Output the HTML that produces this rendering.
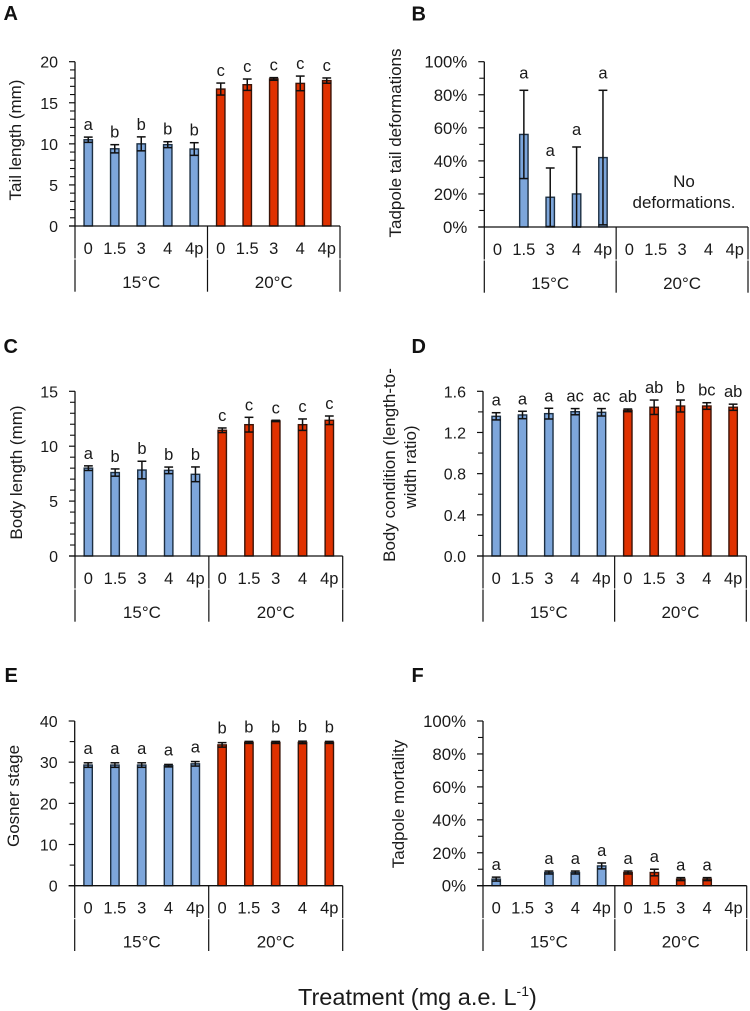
<!DOCTYPE html>
<html lang="en">
<head>
<meta charset="utf-8">
<title>Tadpole responses by treatment and temperature</title>
<style>
  html, body { margin: 0; padding: 0; background: #fff; }
  svg { display: block; }
  text { font-family: "Liberation Sans", Arial, sans-serif; fill: #1a1a1a; }
  .panel-letter { font-weight: bold; font-size: 20px; fill: #111; }
  .y-title { font-size: 17px; text-anchor: middle; }
  .note { font-size: 17px; text-anchor: middle; }
</style>
</head>
<body>
<svg id="figure" width="750" height="1011" viewBox="0 0 750 1011" xmlns="http://www.w3.org/2000/svg">
  <text class="panel-letter" x="3.5" y="20">A</text>
  <text class="panel-letter" x="411.5" y="20.5">B</text>
  <text class="panel-letter" x="3.5" y="353">C</text>
  <text class="panel-letter" x="411.5" y="353">D</text>
  <text class="panel-letter" x="4.5" y="682">E</text>
  <text class="panel-letter" x="411.5" y="682">F</text>

  <text class="y-title" transform="translate(21,140) rotate(-90)">Tail length (mm)</text>
  <text class="y-title" transform="translate(401,143) rotate(-90)">Tadpole tail deformations</text>
  <text class="y-title" transform="translate(22,472.5) rotate(-90)">Body length (mm)</text>
  <text class="y-title" transform="translate(395,465) rotate(-90)">Body condition (length-to-</text>
  <text class="y-title" transform="translate(416,467) rotate(-90)">width ratio)</text>
  <text class="y-title" transform="translate(19,796) rotate(-90)">Gosner stage</text>
  <text class="y-title" transform="translate(404,804) rotate(-90)">Tadpole mortality</text>

  <text class="note" x="684" y="187">No</text>
  <text class="note" x="684" y="208">deformations.</text>

  <text x="298" y="1005" font-size="23.5px">Treatment (mg a.e. L<tspan font-size="14px" dy="-9">-1</tspan><tspan dy="9">)</tspan></text>

  <g id="panel-a"></g>
  <g id="panel-b"></g>
  <g id="panel-c"></g>
  <g id="panel-d"></g>
  <g id="panel-e"></g>
  <g id="panel-f"></g>
</svg>

<script>
const categories = ["0", "1.5", "3", "4", "4p", "0", "1.5", "3", "4", "4p"];
const temperatureGroups = ["15°C", "20°C"];

const tailLengthTicks = ["0", "5", "10", "15", "20"];
const tailLengthMeans = [10.5, 9.4, 10.0, 9.9, 9.37, 16.67, 17.2, 17.9, 17.36, 17.7];
const tailLengthErrors = [0.32, 0.5, 0.85, 0.36, 0.77, 0.73, 0.69, 0.16, 0.89, 0.32];
const tailLengthLetters = ["a", "b", "b", "b", "b", "c", "c", "c", "c", "c"];

const deformationTicks = ["0%", "20%", "40%", "60%", "80%", "100%"];
const deformationMeans = [0, 56, 18, 20, 42, 0, 0, 0, 0, 0];
const deformationErrors = [0, 26.7, 17.7, 28.4, 40.7, 0, 0, 0, 0, 0];
const deformationLetters = ["", "a", "a", "a", "a", "", "", "", "", ""];

const bodyLengthTicks = ["0", "5", "10", "15"];
const bodyLengthMeans = [8.0, 7.6, 7.83, 7.8, 7.44, 11.45, 11.96, 12.3, 11.96, 12.36];
const bodyLengthErrors = [0.21, 0.33, 0.8, 0.3, 0.67, 0.21, 0.67, 0.06, 0.52, 0.39];
const bodyLengthLetters = ["a", "b", "b", "b", "b", "c", "c", "c", "c", "c"];

const conditionTicks = ["0.0", "0.4", "0.8", "1.2", "1.6"];
const conditionMeans = [1.357, 1.37, 1.383, 1.402, 1.396, 1.415, 1.445, 1.457, 1.457, 1.445];
const conditionErrors = [0.035, 0.036, 0.052, 0.03, 0.036, 0.013, 0.07, 0.058, 0.032, 0.03];
const conditionLetters = ["a", "a", "a", "ac", "ac", "ab", "ab", "b", "bc", "ab"];

const gosnerTicks = ["0", "10", "20", "30", "40"];
const gosnerMeans = [29.3, 29.3, 29.3, 29.15, 29.6, 34.2, 34.8, 34.8, 34.8, 34.8];
const gosnerErrors = [0.55, 0.55, 0.55, 0.3, 0.55, 0.55, 0.25, 0.25, 0.3, 0.25];
const gosnerLetters = ["a", "a", "a", "a", "a", "b", "b", "b", "b", "b"];

const mortalityTicks = ["0%", "20%", "40%", "60%", "80%", "100%"];
const mortalityMeans = [4, 0, 8, 8, 12, 8, 8, 4, 4, 0];
const mortalityErrors = [1.2, 0, 0.9, 0.9, 1.8, 0.9, 2, 0.9, 0.9, 0];
const mortalityLetters = ["a", "", "a", "a", "a", "a", "a", "a", "a", ""];

const SVG_NS = "http://www.w3.org/2000/svg";
const INK = "#101010";

function makeEl(parent, tag, attrs, text) {
  const el = document.createElementNS(SVG_NS, tag);
  for (const key in attrs) el.setAttribute(key, attrs[key]);
  if (text !== undefined) el.textContent = text;
  parent.appendChild(el);
  return el;
}

function drawPanel(cfg) {
  const root = document.getElementById(cfg.id);
  const yMax = parseFloat(cfg.ticks[cfg.ticks.length - 1]);
  const yScale = v => cfg.base - (v / yMax) * (cfg.base - cfg.top);
  const step = (cfg.right - cfg.left) / cfg.categories.length;
  const xScale = i => cfg.left + (i + 0.5) * step;
  const divider = cfg.left + step * cfg.categories.length / 2;

  cfg.means.forEach((mean, i) => {
    const err = cfg.errors[i];
    const xc = xScale(i);
    const barColor = i < 5 ? "#7DA6DB" : "#E03100";
    const barEdge = i < 5 ? "#1d2f42" : "#3b1408";
    if (mean > 0) {
      const bar = makeEl(root, "rect", {
        x: xc - 4.2, y: yScale(mean), width: 8.4, height: cfg.base - yScale(mean),
        fill: barColor, stroke: barEdge, "stroke-width": 1.4
      });
      
      
    }
    if (err > 0) {
      const hi = yScale(mean + err);
      const lo = yScale(Math.max(0, mean - err));
      const stem = makeEl(root, "line", { x1: xc, x2: xc, y1: hi, y2: lo, stroke: INK, "stroke-width": 1.5 });
      
      
      const capTop = makeEl(root, "line", { x1: xc - 4.4, x2: xc + 4.4, y1: hi, y2: hi, stroke: INK, "stroke-width": 1.5 });
      
      
      const capLow = makeEl(root, "line", { x1: xc - 4.4, x2: xc + 4.4, y1: lo, y2: lo, stroke: INK, "stroke-width": 1.5 });
      
      
    }
    if (cfg.letters[i]) {
      const letter = makeEl(root, "text", {
        x: xc, y: yScale(mean + err) - cfg.letterGap, "text-anchor": "middle", "font-size": "16.5px"
      }, cfg.letters[i]);
      
      
    }
  });

  const yAxis = makeEl(root, "line", { x1: cfg.left, x2: cfg.left, y1: cfg.top, y2: cfg.base, stroke: INK, "stroke-width": 1.3 });
  
  
  const xAxis = makeEl(root, "line", { x1: cfg.left - 6, x2: cfg.right, y1: cfg.base, y2: cfg.base, stroke: INK, "stroke-width": 1.3 });
  
  

  const majorStep = yMax / (cfg.ticks.length - 1);
  cfg.ticks.forEach(label => {
    const v = parseFloat(label);
    const y = yScale(v);
    const tick = makeEl(root, "line", { x1: cfg.left - 6, x2: cfg.left, y1: y, y2: y, stroke: INK, "stroke-width": 1.2 });
    
    
    const tickText = makeEl(root, "text", {
      x: cfg.left - 17, y: y + 6, "text-anchor": "end", "font-size": cfg.tickFont + "px"
    }, label);
    
    
    if (v < yMax) {
      for (let m = 1; m < cfg.minorDiv; m++) {
        const my = yScale(v + majorStep * m / cfg.minorDiv);
        const minor = makeEl(root, "line", { x1: cfg.left - 5, x2: cfg.left, y1: my, y2: my, stroke: INK, "stroke-width": 1.1 });
        
        
      }
    }
  });

  cfg.categories.forEach((label, i) => {
    const cat = makeEl(root, "text", {
      x: xScale(i), y: cfg.base + 28, "text-anchor": "middle", "font-size": "16.5px"
    }, label);
    
    
  });

  [cfg.left, divider, cfg.right].forEach(x => {
    const upper = makeEl(root, "line", { x1: x, x2: x, y1: cfg.base, y2: cfg.base + 32.5, stroke: INK, "stroke-width": 1.2 });
    
    
    const lower = makeEl(root, "line", { x1: x, x2: x, y1: cfg.base + 33.5, y2: cfg.bottom, stroke: INK, "stroke-width": 1.2 });
    
    
  });

  cfg.groups.forEach((label, g) => {
    const group = makeEl(root, "text", {
      x: (g === 0 ? (cfg.left + divider) : (divider + cfg.right)) / 2, y: cfg.base + 62,
      "text-anchor": "middle", "font-size": "17px"
    }, label);
    
    
  });
}

drawPanel({ id: "panel-a", left: 75, right: 340, top: 61.7, base: 226, bottom: 291.7, minorDiv: 5, letterGap: 7, tickFont: 16,
  categories: categories, groups: temperatureGroups, ticks: tailLengthTicks, means: tailLengthMeans, errors: tailLengthErrors, letters: tailLengthLetters });
drawPanel({ id: "panel-b", left: 484.3, right: 748, top: 61.7, base: 227, bottom: 292.7, minorDiv: 2, letterGap: 12, tickFont: 16.8,
  categories: categories, groups: temperatureGroups, ticks: deformationTicks, means: deformationMeans, errors: deformationErrors, letters: deformationLetters });
drawPanel({ id: "panel-c", left: 75, right: 342.7, top: 391.3, base: 556, bottom: 621.7, minorDiv: 5, letterGap: 7, tickFont: 16,
  categories: categories, groups: temperatureGroups, ticks: bodyLengthTicks, means: bodyLengthMeans, errors: bodyLengthErrors, letters: bodyLengthLetters });
drawPanel({ id: "panel-d", left: 483, right: 746.3, top: 391.3, base: 556, bottom: 621.7, minorDiv: 2, letterGap: 7, tickFont: 16,
  categories: categories, groups: temperatureGroups, ticks: conditionTicks, means: conditionMeans, errors: conditionErrors, letters: conditionLetters });
drawPanel({ id: "panel-e", left: 74.7, right: 342.7, top: 721, base: 885.7, bottom: 951, minorDiv: 2, letterGap: 9, tickFont: 16,
  categories: categories, groups: temperatureGroups, ticks: gosnerTicks, means: gosnerMeans, errors: gosnerErrors, letters: gosnerLetters });
drawPanel({ id: "panel-f", left: 483, right: 746.7, top: 721, base: 885.7, bottom: 951, minorDiv: 2, letterGap: 7, tickFont: 16.8,
  categories: categories, groups: temperatureGroups, ticks: mortalityTicks, means: mortalityMeans, errors: mortalityErrors, letters: mortalityLetters });
</script>
</body>
</html>
